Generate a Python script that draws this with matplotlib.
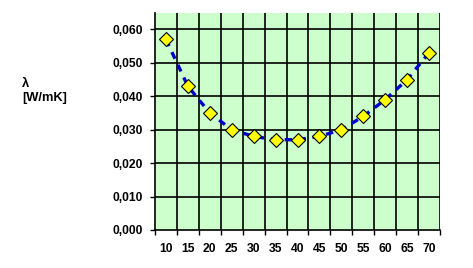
import matplotlib
matplotlib.use("Agg")
import matplotlib.pyplot as plt
from matplotlib.ticker import FixedLocator, FuncFormatter

# temperature categories and thermal conductivity values
temps = [10, 15, 20, 25, 30, 35, 40, 45, 50, 55, 60, 65, 70]
lam = [0.057, 0.043, 0.035, 0.030, 0.028, 0.027, 0.027,
       0.028, 0.030, 0.034, 0.039, 0.045, 0.053]
y_ticks = [0.0, 0.01, 0.02, 0.03, 0.04, 0.05, 0.06]

plt.rcParams["font.family"] = ["Liberation Sans", "DejaVu Sans"]

fig = plt.figure(figsize=(4.73, 2.68), dpi=100)
ax = fig.add_axes([155 / 473, 38 / 268, 285 / 473, 217.3 / 268])
ax.set_facecolor("#CCFFCC")

pos = list(range(len(temps)))
ax.plot(pos, lam, color="#0000CC", linewidth=2.4, linestyle=(0, (2.2, 2.0)),
        zorder=3)
ax.plot(pos, lam, linestyle="none", marker="D", markersize=7.4,
        markerfacecolor="#FFFF00", markeredgecolor="black",
        markeredgewidth=0.8, zorder=4)

ax.set_xlim(-0.5, len(temps) - 0.5)
ax.set_ylim(0, 0.065)

# category labels at centres, tick marks at category boundaries
ax.set_xticks(pos)
ax.set_xticklabels([str(t) for t in temps])
bounds = [i - 0.5 for i in range(len(temps) + 1)]
ax.xaxis.set_minor_locator(FixedLocator(bounds))
ax.tick_params(axis="x", which="major", length=0, pad=9)
ax.tick_params(axis="x", which="minor", length=3.5, width=1.0, color="black")

ax.set_yticks(y_ticks)
ax.yaxis.set_major_formatter(FuncFormatter(lambda v, p: f"{v:.3f}".replace(".", ",")))
ax.tick_params(axis="y", length=3.5, width=1.0, pad=5)

for lbl in ax.get_xticklabels() + ax.get_yticklabels():
    lbl.set_fontweight("bold")
    lbl.set_fontsize(8.7)

# grid: black lines at category boundaries and y ticks
for b in bounds[1:]:
    ax.axvline(b, color="black", linewidth=1.2, zorder=1)
for yv in y_ticks[1:]:
    ax.axhline(yv, color="black", linewidth=1.2, zorder=1)

for side in ["top", "right"]:
    ax.spines[side].set_visible(False)
for side in ["left", "bottom"]:
    ax.spines[side].set_linewidth(1.2)

fig.text(22 / 473, 1 - 78 / 268, "λ\n[W/mK]", ha="left", va="top",
         fontsize=9.3, fontweight="bold", linespacing=1.2)

fig.savefig("out.png", dpi=100)
